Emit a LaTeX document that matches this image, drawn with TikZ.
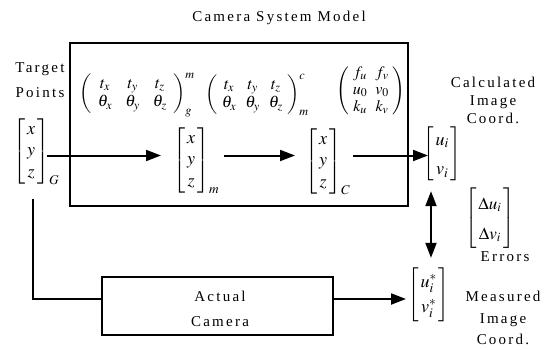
\documentclass[tikz,border=0pt]{standalone}
\usepackage{mathptmx}
\usepackage{fontspec}
\setmainfont{Liberation Serif}
\newfontfamily\spaced[LetterSpace=15]{Liberation Serif}
\usetikzlibrary{arrows.meta}

\tikzset{
  label/.style={font=\fontsize{15}{19}\selectfont\spaced, align=center, inner sep=0pt},
  vec/.style={inner sep=0pt, anchor=west},
  par/.style={font=\fontsize{16.5}{18.5}\selectfont, inner sep=0pt, anchor=west},
  frame/.style={draw, line width=1.2pt},
  head/.tip={Triangle[length=15pt,width=11pt]},
  flow/.style={line width=2pt, -head},
  both/.style={line width=2pt, head-head},
  wire/.style={line width=2pt}
}

\begin{document}
\begin{tikzpicture}[x=1pt,y=-1pt]
\useasboundingbox (0,0) rectangle (554,350);

% blocks
\draw[frame] (70,43) rectangle (408,206);
\node[frame, minimum width=231pt, minimum height=58pt, inner sep=0pt] (cam) at (217.5,306) {};
\node[label, font=\fontsize{15}{25}\selectfont\spaced] (camtxt) at (220,309) {Actual\\Camera};

% captions
\node[label] (title) at (279,18) {Camera System Model};
\node[label, font=\fontsize{15}{25}\selectfont\spaced] (tp) at (40,80) {Target\\Points};
\node[label, font=\fontsize{15}{18}\selectfont\spaced] (calc) at (493,100) {Calculated\\Image\\Coord.};
\node[label, font=\fontsize{15}{21.5}\selectfont\spaced] (meas) at (503,318) {Measured\\Image\\Coord.};
\node[label] (err) at (505,257) {Errors};

% coordinate vectors
\node[vec, font=\fontsize{18}{21.5}\selectfont] (gv) at (13,152) {$\left[\begin{array}{@{\,}c@{\,}}x\\y\\z\end{array}\right]_{G}$};
\node[vec, font=\fontsize{18}{21.5}\selectfont] (mv) at (173,161) {$\left[\begin{array}{@{\,}c@{\,}}x\\y\\z\end{array}\right]_{m}$};
\node[vec, font=\fontsize{18}{21.5}\selectfont] (cv) at (305,162) {$\left[\begin{array}{@{\,}c@{\,}}x\\y\\z\end{array}\right]_{C}$};
\node[vec, font=\fontsize{18}{29}\selectfont] (ui) at (423,154) {$\left[\begin{array}{@{\,}c@{\,}}u_i\\v_i\end{array}\right]$};
\node[vec, font=\fontsize{18}{25}\selectfont] (us) at (408,295) {$\left[\begin{array}{@{\,}c@{\,}}u_i^*\\v_i^*\end{array}\right]$};
\node[vec, font=\fontsize{17}{30}\selectfont] (dv) at (465,218) {$\left[\begin{array}{@{\,}c@{\,}}\Delta u_i\\\Delta v_i\end{array}\right]$};

% transformation parameters
\node[par] (pgm) at (79,95) {$\setlength{\arraycolsep}{6.5pt}\left(\begin{array}{ccc}t_x & t_y & t_z\\\theta_x & \theta_y & \theta_z\end{array}\right)_{g}^{m}$};
\node[par] (pmc) at (205,95) {$\setlength{\arraycolsep}{4.5pt}\left(\begin{array}{ccc}t_x & t_y & t_z\\\theta_x & \theta_y & \theta_z\end{array}\right)_{m}^{c}$};
\node[par, font=\fontsize{16}{17}\selectfont] (pint) at (336,91) {$\setlength{\arraycolsep}{4pt}\left(\begin{array}{cc}f_u & f_v\\u_0 & v_0\\k_u & k_v\end{array}\right)$};

% connectors
\coordinate (row) at (0,155.5);
\coordinate (low) at (0,299);
\coordinate (drop) at (33,0);
\coordinate (err x) at (431,0);
\draw[flow] ([xshift=34pt]gv.west |- row) -- ([xshift=-12pt]mv.west |- row);
\draw[flow] ([xshift=4pt]mv.east |- row) -- ([xshift=-10pt]cv.west |- row);
\draw[flow] ([xshift=3pt]cv.east |- row) -- ([xshift=5pt]ui.west |- row);
\draw[both] ([yshift=-8pt]ui.south -| err x) -- ([yshift=10pt]us.north -| err x);
\draw[wire] ([yshift=-14pt]gv.south -| drop) |- (cam.west |- low);
\draw[flow] (cam.east |- low) -- ([xshift=-2pt]us.west |- low);
\end{tikzpicture}
\end{document}
